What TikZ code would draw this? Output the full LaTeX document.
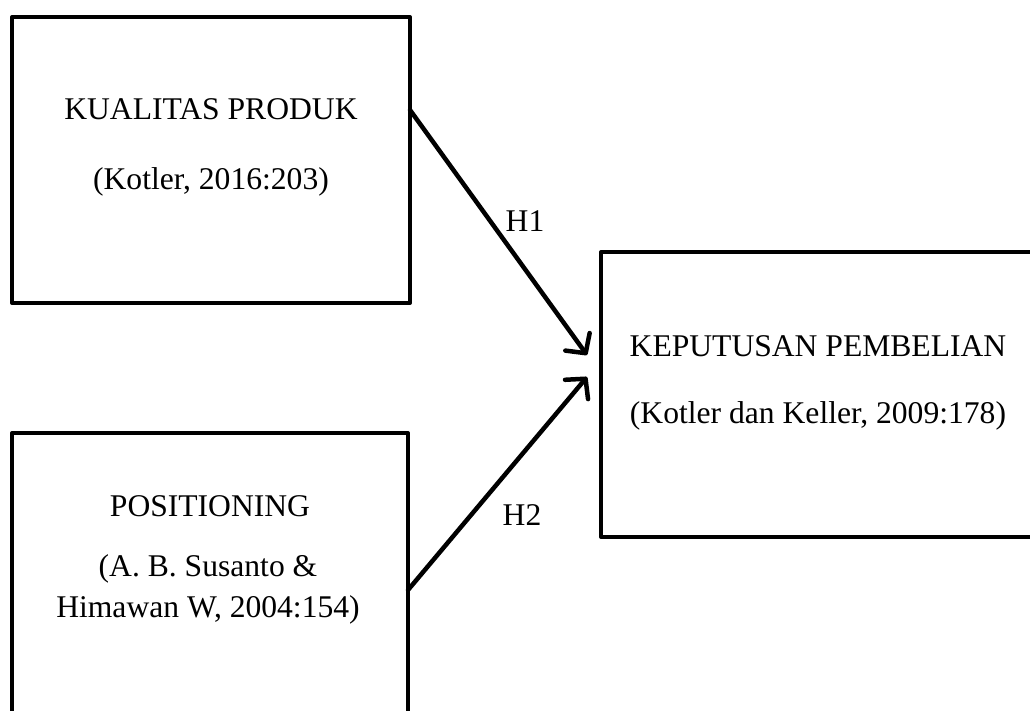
\documentclass[tikz,border=0pt]{standalone}
\usepackage{fontspec}
\setmainfont{Liberation Serif}
\usetikzlibrary{arrows.meta}
\tikzset{
  box/.style={draw, line width=4pt, line join=round, inner sep=0pt, outer sep=0pt, fill=none},
  txt/.style={anchor=base, inner sep=0pt, font=\fontsize{31.6}{40}\selectfont, align=center},
  conn/.style={line width=4.5pt, line cap=round, -{Straight Barb[length=14pt,width=30pt,round]}},
}
\begin{document}
\begin{tikzpicture}[x=1pt,y=-1pt]
\useasboundingbox[fill=white] (0,0) rectangle (1030,711);
\node[box, minimum width=398pt, minimum height=286pt] (kp) at (211,160) {};
\node[box, minimum width=396pt, minimum height=286pt] (pos) at (210,576) {};
\node[box, minimum width=434pt, minimum height=285pt] (kb) at (818,394.5) {};
\node[txt] (kpt1) at (211,120) {KUALITAS PRODUK};
\node[txt] (kpt2) at (211,190) {(Kotler, 2016:203)};
\node[txt] (post1) at (210,516) {POSITIONING};
\node[txt] (post2) at (208,576) {(A. B. Susanto \&};
\node[txt] (post3) at (208,617) {Himawan W, 2004:154)};
\node[txt] (kbt1) at (818,356) {KEPUTUSAN PEMBELIAN};
\node[txt] (kbt2) at (818,423) {(Kotler dan Keller, 2009:178)};
\coordinate (tip1) at (587,355);
\coordinate (tip2) at (587,377);
\draw[conn] ([yshift=-93pt]kp.north east) -- (tip1);
\draw[conn] ([yshift=-157pt]pos.north east) -- (tip2);
\node[txt] (h1) at (525,232) {H1};
\node[txt] (h2) at (522,525) {H2};
\end{tikzpicture}
\end{document}
